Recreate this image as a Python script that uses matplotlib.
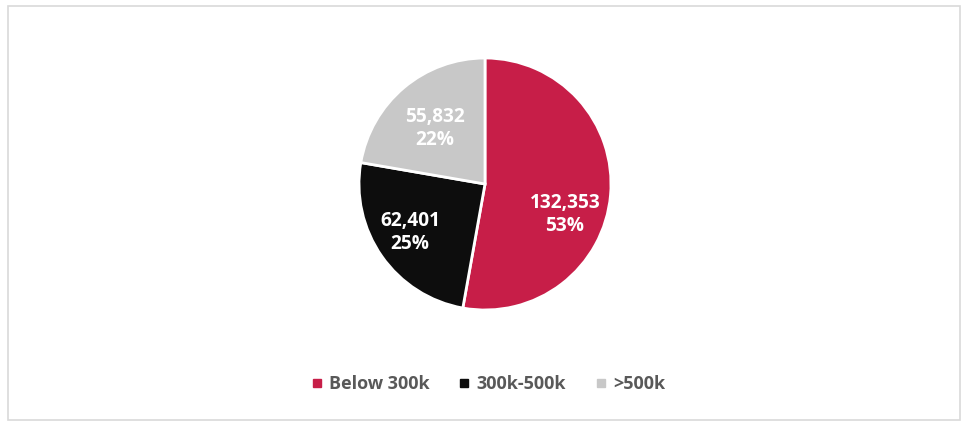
import numpy as np
import matplotlib
matplotlib.use("Agg")
import matplotlib.pyplot as plt
from matplotlib.lines import Line2D
from matplotlib.patches import Rectangle

categories = ["Below 300k", "300k-500k", ">500k"]
counts = [132353, 62401, 55832]
colors = ["#C71E48", "#0D0D0D", "#C8C8C8"]

plt.rcParams["font.family"] = ["Open Sans", "DejaVu Sans"]

W, H = 961, 421
fig = plt.figure(figsize=(W / 100, H / 100), dpi=100)

# pie centre / radius in pixels
cx, cy, r = 485, 421 - 184, 126
ax = fig.add_axes([(cx - r) / W, (cy - r) / H, 2 * r / W, 2 * r / H])
wedges, _ = ax.pie(counts, colors=colors, startangle=90, counterclock=False,
                   radius=1.0, wedgeprops=dict(edgecolor="white", linewidth=2))
ax.set_xlim(-1, 1)
ax.set_ylim(-1, 1)
ax.set_aspect("equal")
ax.axis("off")

total = sum(counts)
# distance from centre and angle nudge for each label (Excel-like placement)
label_dist = [0.68, 0.71, 0.59]
angle_nudge = [-16, -2, 2]
for w, n, d, da in zip(wedges, counts, label_dist, angle_nudge):
    mid = np.deg2rad((w.theta1 + w.theta2) / 2 + da)
    x, y = d * np.cos(mid), d * np.sin(mid)
    ax.text(x, y, f"{n:,}\n{n / total:.0%}", ha="center", va="center",
            color="white", fontsize=13.8, fontweight="bold", linespacing=1.2)

handles = [Line2D([], [], marker="s", linestyle="none", markersize=6,
                  markerfacecolor=c, markeredgecolor=c) for c in colors]
leg = fig.legend(handles, categories, loc="center", bbox_to_anchor=(0.508, 0.088),
                 ncol=3, frameon=False, handlelength=0.6, handletextpad=0.4,
                 columnspacing=1.6, prop=dict(size=13, weight="bold"))
for t in leg.get_texts():
    t.set_color("#595959")

fig.add_artist(Rectangle((7.5 / W, 1.5 / H), (W - 9) / W, (H - 7) / H,
                         transform=fig.transFigure, fill=False,
                         edgecolor="#D9D9D9", linewidth=1.2))

fig.savefig("out.png", dpi=100)
